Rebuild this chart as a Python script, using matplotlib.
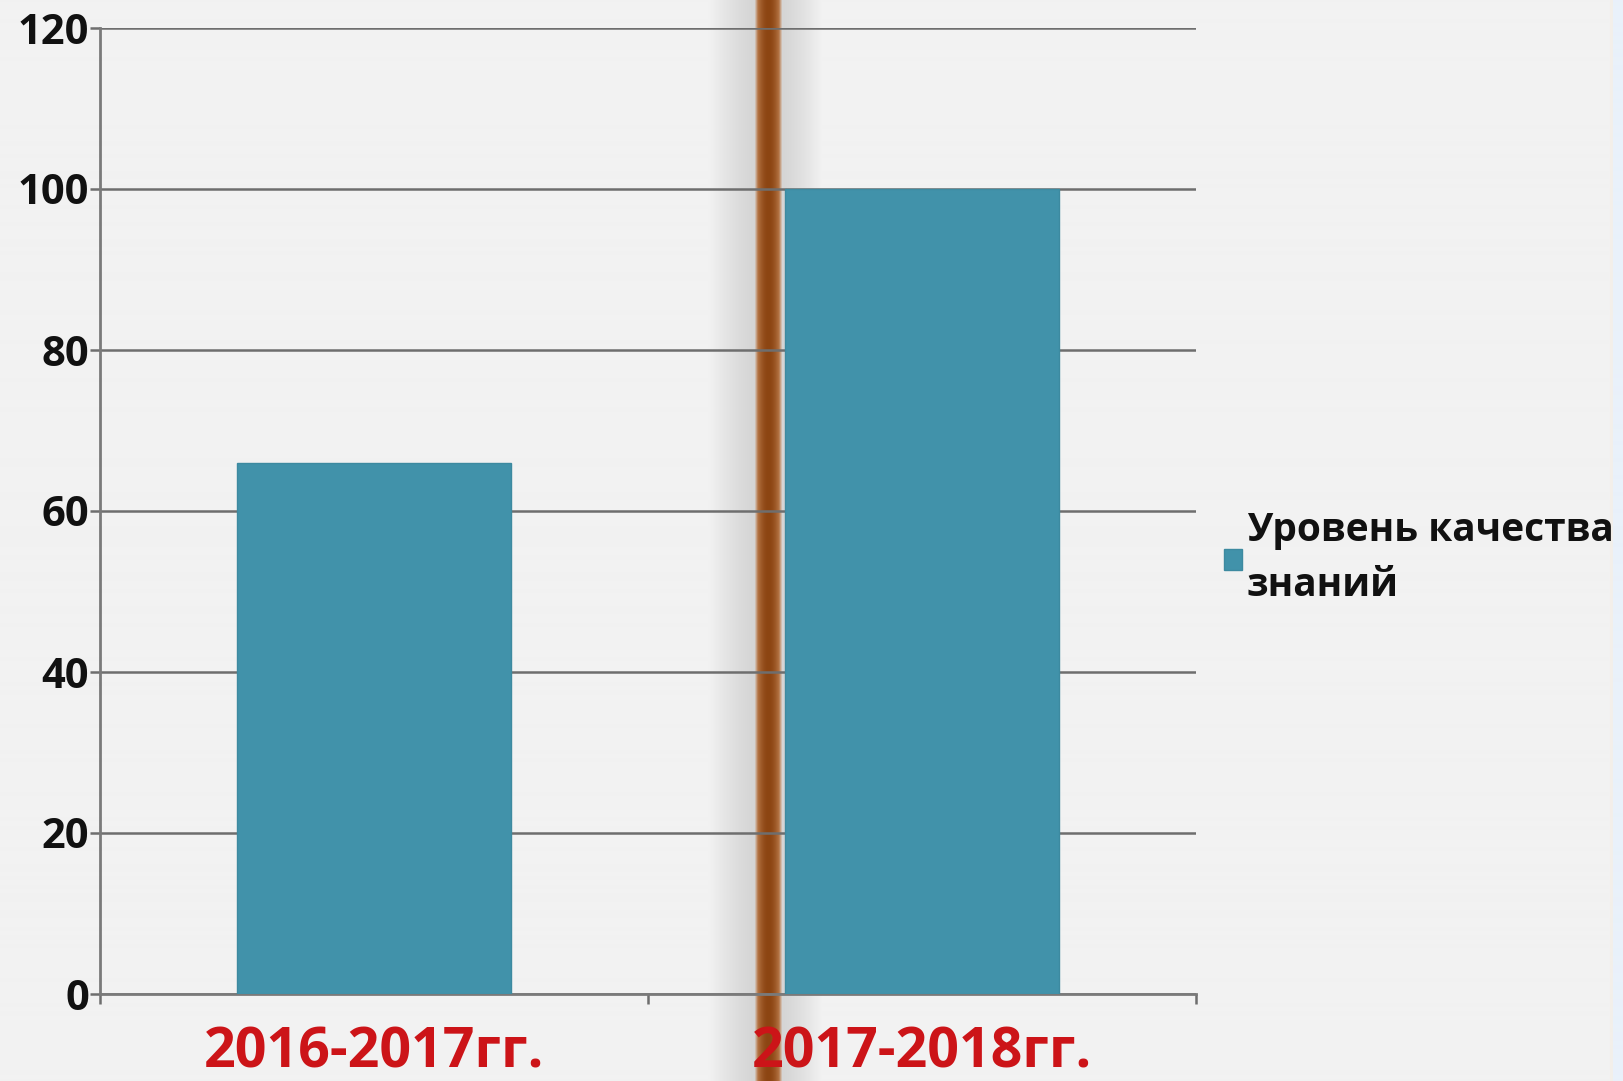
import numpy as np
import matplotlib
matplotlib.use("Agg")
import matplotlib.pyplot as plt

# ---- data ----
categories = ["2016-2017гг.", "2017-2018гг."]
values = [66, 100]
series_name = "Уровень качества\nзнаний"
yticks = [0, 20, 40, 60, 80, 100, 120]

W, H = 1623, 1081
fig = plt.figure(figsize=(W / 100, H / 100), dpi=100)
bg = np.array([0xf2, 0xf2, 0xf2]) / 255.0
fig.patch.set_facecolor(bg)

# ---- background decoration (vertical brown stripe with soft shadow) ----
xs = np.arange(W) + 0.5
img = np.tile(bg, (W, 1)).astype(float)
c = 768.5
d = xs - c
ad = np.abs(d)
brown_c = np.array([0x8c, 0x45, 0x12]) / 255.0
brown_e = np.array([0xb4, 0x74, 0x44]) / 255.0
core = 10.5
for i in range(W):
    if ad[i] <= core:
        t = (ad[i] / core) ** 2
        img[i] = brown_c * (1 - t) + brown_e * t
    elif ad[i] <= core + 3:
        t = (ad[i] - core) / 3
        img[i] = brown_e * (1 - t) + np.array([0.84, 0.80, 0.77]) * t
    else:
        span = 46 if d[i] < 0 else 40
        u = (ad[i] - core - 3) / span
        if u < 1:
            g = 0.835 + (0.949 - 0.835) * u ** 1.3
            img[i] = np.array([g, g, g])
img[1610:1613] = np.array([0xf3, 0xef, 0xea]) / 255.0
img[1613:] = np.array([0xe9, 0xf1, 0xfa]) / 255.0
bgax = fig.add_axes([0, 0, 1, 1], zorder=0)
bgax.imshow(img[np.newaxis, :, :], aspect="auto", extent=[0, 1, 0, 1], interpolation="bilinear")
bgax.set_axis_off()

# ---- main axes ----
left, right, top, bottom = 100, 1196, 28, 994
ax = fig.add_axes([left / W, (H - bottom) / H, (right - left) / W, (bottom - top) / H], zorder=1)
ax.set_facecolor("none")

x = np.arange(len(categories))
bars = ax.bar(x, values, width=0.5, color="#4192aa", edgecolor="#3d8aa0", linewidth=1,
              label=series_name, zorder=3)

ax.set_xlim(-0.5, len(categories) - 0.5)
ax.set_ylim(0, 120)
ax.set_yticks(yticks)
ax.set_yticklabels([str(v) for v in yticks])
ax.yaxis.grid(True, color="#6e6e6e", linewidth=1.8, zorder=1)
ax.set_axisbelow(True)

for s in ["top", "right"]:
    ax.spines[s].set_visible(False)
for s in ["left", "bottom"]:
    ax.spines[s].set_color("#7a7a7a")
    ax.spines[s].set_linewidth(2)

ax.tick_params(axis="y", length=7, width=1.8, color="#6e6e6e", pad=1)
for lab in ax.get_yticklabels():
    lab.set_fontfamily(["Open Sans", "DejaVu Sans"])
    lab.set_fontweight("bold")
    lab.set_fontsize(30)
    lab.set_color("#111111")

ax.set_xticks(x)
ax.set_xticklabels(categories)
ax.set_xticks(np.arange(len(categories) + 1) - 0.5, minor=True)
ax.tick_params(axis="x", which="major", length=0, pad=23)
ax.tick_params(axis="x", which="minor", length=7, width=1.8, color="#6e6e6e")
for lab in ax.get_xticklabels():
    lab.set_fontfamily(["Open Sans", "DejaVu Sans"])
    lab.set_fontweight("bold")
    lab.set_fontsize(40)
    lab.set_color("#cc1418")

leg = ax.legend(loc="center left", bbox_to_anchor=(1189 / W, 1 - 558 / H),
                bbox_transform=fig.transFigure, frameon=False,
                handlelength=0.45, handleheight=0.45, handletextpad=0.14,
                prop={"family": ["Open Sans", "DejaVu Sans"], "weight": "bold", "size": 28})
for t in leg.get_texts():
    t.set_color("#111111")
    t.set_linespacing(1.55)

fig.savefig("out.png", dpi=100, facecolor=fig.get_facecolor())
